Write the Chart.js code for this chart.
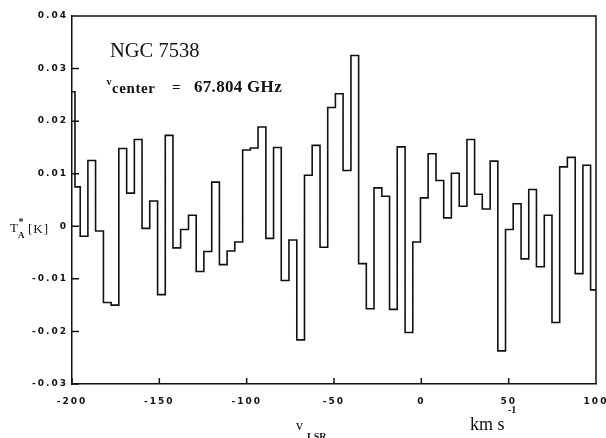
<!DOCTYPE html>
<html>
<head>
<meta charset="utf-8">
<title>NGC 7538 spectrum</title>
<script src="https://cdn.jsdelivr.net/npm/chart.js@4.4.1/dist/chart.umd.min.js"></script>
<style>
  html, body { margin: 0; padding: 0; background: #fff; }
  #wrap { width: 606px; height: 438px; }
</style>
</head>
<body>
<div id="wrap"><canvas id="spec" width="606" height="438"></canvas></div>
<script>
// channel edges in km/s (left edge of each channel, last entry closes the plot)
const velocityEdges = [
  -200, -198.3, -195.3, -190.9, -186.5, -182.0, -177.6, -173.2, -168.7, -164.3,
  -159.9, -155.5, -151.0, -146.6, -142.2, -137.8, -133.3, -128.9, -124.5, -120.0,
  -115.6, -111.2, -106.8, -102.3, -97.9, -93.5, -89.0, -84.6, -80.2, -75.8,
  -71.3, -66.9, -62.5, -58.0, -53.6, -49.2, -44.8, -40.3, -35.9, -31.5,
  -27.1, -22.6, -18.2, -13.8, -9.3, -4.9, -0.5, 3.9, 8.4, 12.8,
  17.2, 21.7, 26.1, 30.5, 34.9, 39.4, 43.8, 48.2, 52.6, 57.1,
  61.5, 65.9, 70.4, 74.8, 79.2, 83.6, 88.1, 92.5, 96.9, 100
];

// T*_A in K, one value per channel
const tAntenna = [
  0.0256, 0.0075, -0.0019, 0.0125, -0.0009, -0.0145, -0.0150, 0.0148, 0.0063, 0.0165,
  -0.0004, 0.0048, -0.0130, 0.0173, -0.0041, -0.0006, 0.0021, -0.0086, -0.0048, 0.0084,
  -0.0073, -0.0047, -0.0030, 0.0145, 0.0149, 0.0189, -0.0023, 0.0150, -0.0103, -0.0026,
  -0.0216, 0.0097, 0.0154, -0.0040, 0.0226, 0.0252, 0.0106, 0.0325, -0.0071, -0.0157,
  0.0073, 0.0057, -0.0158, 0.0151, -0.0202, -0.0030, 0.0054, 0.0138, 0.0087, 0.0016,
  0.0101, 0.0038, 0.0165, 0.0061, 0.0033, 0.0124, -0.0237, -0.0006, 0.0043, -0.0062,
  0.0070, -0.0077, 0.0021, -0.0183, 0.0113, 0.0131, -0.0090, 0.0116, -0.0121
];

const xTicks = [-200, -150, -100, -50, 0, 50, 100];
const xTickLabels = ["-200", "-150", "-100", "-50", "0", "50", "100"];
const yTicks = [-0.03, -0.02, -0.01, 0, 0.01, 0.02, 0.03, 0.04];
const yTickLabels = ["-0.03", "-0.02", "-0.01", "0", "0.01", "0.02", "0.03", "0.04"];

const points = velocityEdges.map((v, i) => ({
  x: v,
  y: tAntenna[Math.min(i, tAntenna.length - 1)]
}));

const ink = "#111";
const tickFont = { family: "'DejaVu Sans'", size: 9, weight: "bold" };

function txt(ctx, s, x, y, font, spacing) {
  ctx.font = font;
  ctx.letterSpacing = spacing || "0px";
  ctx.fillText(s, x, y);
}

// frame, inward tick marks and the hand-placed labels
const framePlugin = {
  id: "frame",
  beforeDraw(chart) {
    chart.ctx.letterSpacing = "2px"; // spaced tick labels like the plot
  },
  afterDatasetsDraw(chart) {
    const { ctx, chartArea: a, scales } = chart;
    ctx.save();
    ctx.letterSpacing = "0px";
    ctx.strokeStyle = ink;
    ctx.lineWidth = 1.5;
    ctx.beginPath();
    ctx.moveTo(a.left, a.top);
    ctx.lineTo(a.right, a.top);
    ctx.lineTo(a.right, a.bottom);
    yTicks.forEach((v) => {
      const py = scales.y.getPixelForValue(v);
      ctx.moveTo(a.left, py);
      ctx.lineTo(a.left + 7, py);
    });
    xTicks.forEach((v) => {
      const px = scales.x.getPixelForValue(v);
      ctx.moveTo(px, a.bottom);
      ctx.lineTo(px, a.bottom - 6);
    });
    ctx.stroke();
    ctx.restore();
  },
  afterDraw(chart) {
    const ctx = chart.ctx;
    ctx.save();
    ctx.fillStyle = ink;
    ctx.textAlign = "left";
    ctx.textBaseline = "alphabetic";
    txt(ctx, "NGC 7538", 110, 56.5, "20.5px 'Liberation Serif'");
    txt(ctx, "v", 106.5, 84.5, "bold 10px 'Liberation Serif'");
    txt(ctx, "center", 112, 93, "bold 15px 'Liberation Serif'", "0.6px");
    txt(ctx, "=", 172, 92, "bold 15px 'Liberation Serif'");
    txt(ctx, "67.804 GHz", 194, 91.5, "bold 17px 'Liberation Serif'", "0.3px");
    // y axis title
    txt(ctx, "T", 10, 232, "13px 'Liberation Serif'");
    txt(ctx, "*", 18.5, 225, "bold 10px 'Liberation Serif'");
    txt(ctx, "A", 18, 238, "bold 9px 'Liberation Serif'");
    txt(ctx, "[K]", 28, 233, "13px 'Liberation Serif'", "1px");
    // x axis title and unit
    txt(ctx, "v", 296, 430, "14px 'Liberation Serif'");
    txt(ctx, "LSR", 307, 440, "bold 10px 'Liberation Serif'");
    txt(ctx, "km s", 470, 430, "18px 'Liberation Serif'");
    txt(ctx, "-1", 508, 413, "bold 10px 'Liberation Serif'");
    ctx.restore();
    ctx.letterSpacing = "0px";
  }
};

new Chart(document.getElementById("spec"), {
  type: "line",
  data: {
    datasets: [{
      data: points,
      stepped: "before",
      borderColor: ink,
      borderWidth: 1.6,
      pointRadius: 0,
      fill: false
    }]
  },
  options: {
    responsive: false,
    animation: false,
    devicePixelRatio: 1,
    layout: { padding: { top: 16, right: 10, left: 0, bottom: 0 } },
    plugins: {
      legend: { display: false },
      tooltip: { enabled: false }
    },
    scales: {
      x: {
        type: "linear",
        min: -200,
        max: 100,
        afterBuildTicks: (s) => { s.ticks = xTicks.map((v) => ({ value: v })); },
        ticks: {
          color: ink,
          font: tickFont,
          padding: 12,
          maxRotation: 0,
          autoSkip: false,
          callback: (v, i) => xTickLabels[i]
        },
        grid: { display: false, drawTicks: false },
        border: { color: ink, width: 1.5 },
        afterFit: (s) => {
          s.height = 54;
          s.paddingLeft = 0;
          s.paddingRight = 0;
        }
      },
      y: {
        min: -0.03,
        max: 0.04,
        afterBuildTicks: (s) => { s.ticks = yTicks.map((v) => ({ value: v })); },
        ticks: {
          color: ink,
          font: tickFont,
          padding: 4,
          autoSkip: false,
          callback: (v, i) => yTickLabels[i]
        },
        grid: { display: false, drawTicks: false },
        border: { color: ink, width: 1.5 },
        afterFit: (s) => {
          s.width = 72;
          s.paddingTop = 0;
          s.paddingBottom = 0;
        }
      }
    }
  },
  plugins: [framePlugin]
});
</script>
</body>
</html>
